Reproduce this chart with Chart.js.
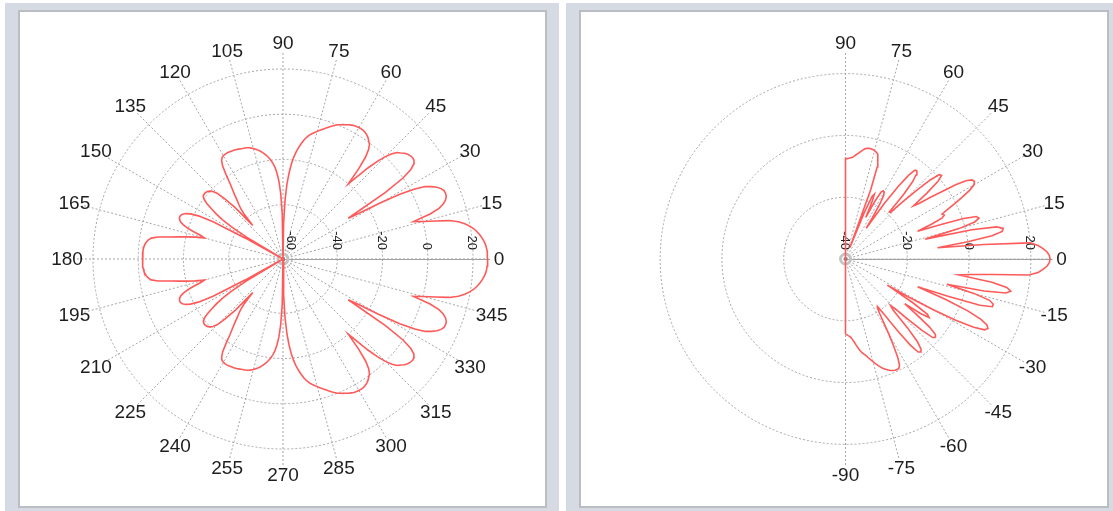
<!DOCTYPE html>
<html>
<head>
<meta charset="utf-8">
<script src="https://cdn.jsdelivr.net/npm/chart.js@4/dist/chart.umd.min.js"></script>
<style>
  html, body { margin: 0; padding: 0; background: #ffffff; }
  body { width: 1113px; height: 511px; position: relative; overflow: hidden; }
  .frame { position: absolute; top: 3px; height: 508px; background: #d6dae2; }
  .panel { position: absolute; top: 7px; height: 494px; border: 2px solid #babdc2; background: #ffffff; }
  .panel canvas { display: block; }
</style>
</head>
<body>
<div class="frame" style="left:5px;width:554px">
  <div class="panel" style="left:13px;width:525px"><canvas id="fullPattern"></canvas></div>
</div>
<div class="frame" style="left:566px;width:547px">
  <div class="panel" style="left:13px;width:526px"><canvas id="halfPattern"></canvas></div>
</div>

<script>
// ---- Full-circle pattern: gain (dB) every 1 degree ----
// 0..180 degrees
const fullGainUpper = [
  26.5, 26.4, 26.3, 26.1, 25.8, 25.2, 24.5, 23.6, 22.6, 21.4,
  19.8, 17.8, 15.3, 11.5, 5.5, 0, -4, 4, 8.5, 11,
  12.5, 13.3, 13.5, 13.3, 12.5, 11, 9, 6.5, 2, -5,
  -15, -25, -30, -10, 0, 5, 7.5, 8.5, 8.7, 8.5,
  8, 7.2, 6, 5, 3, 0, -4, -9, -15, -20,
  -12, -6, -2.5, -0.5, 0.5, 1.5, 2.2, 2.7, 3, 3.1,
  3.1, 3, 2.8, 2.4, 2, 1.5, 1, 0.5, 0, -0.8,
  -1.6, -2.4, -3.2, -4, -4.8, -5.6, -6.4, -7.2, -8, -9.2,
  -10.6, -12.3, -14.2, -16.3, -18.8, -22, -26, -31, -38, -48,
  -64, -44, -35, -29.5, -26, -23.3, -21.5, -20, -18.8, -17.7,
  -16.8, -16, -15.2, -14.5, -14, -13.4, -13, -12.6, -12.3, -12.1,
  -12, -11.8, -11.6, -11.4, -11.3, -11.2, -11.1, -11, -11, -11.1,
  -11.3, -11.7, -12.8, -15, -19, -23, -26, -28.5, -31, -33,
  -35, -38, -44, -33, -27, -23, -21, -20, -19.3, -19,
  -18.8, -18.9, -19.3, -20.5, -22.5, -25.5, -28.5, -32, -37, -45,
  -64, -45, -29, -22, -18.5, -16.5, -15.3, -14.8, -14.7, -15,
  -15.8, -17.3, -19.5, -22.5, -26, -28, -24, -20.5, -17, -13,
  -8, -5, -3.8, -3.1, -2.6, -2.3, -2.1, -2, -1.9, -1.9,
  -1.9
];
// 181..359 degrees
const fullGainLower = [
  -1.9, -1.9, -2, -2.1, -2.3, -2.6, -3.1, -3.8, -5, -8,
  -13, -17, -20.5, -24, -28, -26, -22.5, -19.5, -17.3, -15.8,
  -15, -14.7, -14.8, -15.3, -16.5, -18.5, -22, -29, -45, -64,
  -45, -37, -32, -28.5, -25.5, -22.5, -20.5, -19.3, -18.9, -18.8,
  -19, -19.3, -20, -21, -23, -27, -33, -44, -38, -35,
  -33, -31, -28.5, -26, -23, -19, -15, -12.8, -11.7, -11.3,
  -11.1, -11, -11, -11.1, -11.2, -11.3, -11.4, -11.6, -11.8, -12,
  -12.1, -12.3, -12.6, -13, -13.4, -14, -14.5, -15.2, -16, -16.8,
  -17.7, -18.8, -20, -21.5, -23.3, -26, -29.5, -35, -44, -64,
  -48, -38, -31, -26, -22, -18.8, -16.3, -14.2, -12.3, -10.6,
  -9.2, -8, -7.2, -6.4, -5.6, -4.8, -4, -3.2, -2.4, -1.6,
  -0.8, 0, 0.5, 1, 1.5, 2, 2.4, 2.8, 3, 3.1,
  3.1, 3, 2.7, 2.2, 1.5, 0.5, -0.5, -2.5, -6, -12,
  -20, -15, -9, -4, 0, 3, 5, 6, 7.2, 8,
  8.5, 8.7, 8.5, 7.5, 5, 0, -10, -30, -25, -15,
  -5, 2, 6.5, 9, 11, 12.5, 13.3, 13.5, 13.3, 12.5,
  11, 8.5, 4, -4, 0, 5.5, 11.5, 15.3, 17.8, 19.8,
  21.4, 22.6, 23.6, 24.5, 25.2, 25.8, 26.1, 26.3, 26.4
];
const fullAngleLabels = ['0','15','30','45','60','75','90','105','120','135','150','165',
  '180','195','210','225','240','255','270','285','300','315','330','345'];
const fullAngleTicks = [0,15,30,45,60,75,90,105,120,135,150,165,180,195,210,225,240,255,270,285,300,315,330,345];
const fullRadiusTicks = [-60, -40, -20, 0, 20];
const fullRadiusRange = [-64, 27.5];

// ---- Half-plane pattern: gain (dB) every 1 degree from -90 to 90 ----
const halfGain = [
  -15.7, -15.5, -15.2, -14.9, -14.5, -13.8, -13, -12, -11, -10,
  -9.2, -8.6, -8, -7.2, -6.4, -5.6, -4.8, -4, -3.2, -2.5,
  -2, -1.5, -1.1, -0.8, -0.6, -0.5, -0.6, -1.5, -4, -8,
  -12, -16, -19, -21, -21.5, -18, -11, -5, -1.8, -1.3,
  -2, -4.5, -10, -17.5, -19, -17, -12, -6, -2, -1.3,
  -2, -5, -11, -16, -10, -7, -8, -14, -24, -16,
  -7, 1, 7, 10.5, 11.3, 10.5, 8, 3, -5, -15,
  -5, 6, 10, 10, 8.5, 3, -6.2, 6, 13, 14.5,
  13, 8, -3, 1, 8, 19.5, 22.5, 24, 25.3, 26,
  26.2, 26, 25.3, 24, 22.5, 20, 5, -10, 0, 8,
  11.5, 12, 10, 2, -13.4, -2, 3.5, 5.2, 4.5, 0,
  -8, -15, -10, -6, -5, -5.5, -3, 0, 3, 6,
  8, 8.7, 8.3, 6.5, 3, -2, -6, -10, -12, -6,
  -1, 1.2, 0.8, -2.5, -8, -14, -19, -19.2, -12, -7,
  -4.5, -3.3, -3.5, -6, -11, -18, -28, -24, -19, -16,
  -15, -14.8, -15.5, -19, -25, -20, -17, -18, -24, -36,
  -16, -8.5, -6, -4.5, -4, -3.7, -3.5, -3.4, -3.4, -3.5,
  -3.8, -4.3, -4.9, -5.5, -6, -6.5, -7, -7.2, -7.4, -7.5,
  -7.5
];
const halfAngleLabels = ['-90','-75','-60','-45','-30','-15','0','15','30','45','60','75','90'];
const halfAngleTicks = [-90,-75,-60,-45,-30,-15,0,15,30,45,60,75,90];
const halfRadiusTicks = [-40, -20, 0, 20];
const halfRadiusRange = [-40, 27];

// sample angles (degrees) for each series
const fullAngles = fullGainUpper.map((_, i) => i).concat(fullGainLower.map((_, i) => 181 + i));
const fullGain = fullGainUpper.concat(fullGainLower);
const halfAngles = halfGain.map((_, i) => i - 90);

// polar (angle, gain) -> cartesian in dB units measured from the inner radius
function toXY(angles, gains, rMin) {
  const pts = angles.map((a, i) => {
    const r = Math.max(gains[i] - rMin, 0);
    const t = a * Math.PI / 180;
    return { x: r * Math.cos(t), y: r * Math.sin(t) };
  });
  pts.push({ x: pts[0].x, y: pts[0].y }); // close the outline
  return pts;
}

// polar grid: rings, spokes, radius axis, angle and radius labels
const polarGrid = {
  id: 'polarGrid',
  beforeDatasetsDraw(chart, args, o) {
    const { ctx, scales: { x, y } } = chart;
    const cx = x.getPixelForValue(0), cy = y.getPixelForValue(0);
    const rad = v => x.getPixelForValue(v - o.range[0]) - cx;
    const R = rad(o.range[1]);
    ctx.save();
    ctx.lineWidth = 1;
    ctx.strokeStyle = '#a6a6a6';
    ctx.setLineDash([2, 2]);
    o.radiusTicks.forEach(t => {
      const r = rad(t);
      if (r > 1) { ctx.beginPath(); ctx.arc(cx, cy, r, 0, Math.PI * 2); ctx.stroke(); }
    });
    o.angleTicks.forEach(a => {
      const t = a * Math.PI / 180;
      ctx.beginPath();
      ctx.moveTo(cx, cy);
      ctx.lineTo(cx + R * Math.cos(t), cy - R * Math.sin(t));
      ctx.stroke();
    });
    ctx.setLineDash([]);
    // radius axis along 0 degrees
    ctx.strokeStyle = '#a0a0a0';
    ctx.beginPath(); ctx.moveTo(cx, cy + 0.5); ctx.lineTo(cx + R, cy + 0.5); ctx.stroke();
    // centre marker
    ctx.strokeStyle = '#c4c4c4'; ctx.lineWidth = 3;
    ctx.beginPath(); ctx.arc(cx, cy, 5, 0, Math.PI * 2); ctx.stroke();
    ctx.fillStyle = '#808080';
    ctx.beginPath(); ctx.arc(cx, cy, 2, 0, Math.PI * 2); ctx.fill();
    // angle labels
    ctx.fillStyle = '#1e1e1e';
    ctx.font = '19px "Liberation Sans", Arial, sans-serif';
    ctx.textAlign = 'center';
    ctx.textBaseline = 'middle';
    o.angleTicks.forEach((a, i) => {
      const t = a * Math.PI / 180;
      ctx.fillText(o.angleLabels[i], cx + (R + 9) * Math.cos(t), cy - (R + 9) * Math.sin(t) + 1);
    });
    // radius tick labels, rotated along the axis
    ctx.font = '13px "Liberation Sans", Arial, sans-serif';
    ctx.textAlign = 'right';
    o.radiusTicks.forEach(t => {
      ctx.save();
      ctx.translate(cx + rad(t) - 1, cy - 9);
      ctx.rotate(Math.PI / 2);
      ctx.fillText(String(t), 0, 0);
      ctx.restore();
    });
    ctx.restore();
  }
};

function polarChart(id, angles, gains, range, radiusTicks, angleTicks, angleLabels, centre, radiusPx) {
  const canvas = document.getElementById(id);
  const W = canvas.parentNode.clientWidth, H = canvas.parentNode.clientHeight;
  const k = radiusPx / (range[1] - range[0]);
  return new Chart(canvas, {
    type: 'scatter',
    data: {
      datasets: [{
        data: toXY(angles, gains, range[0]),
        showLine: true,
        borderColor: '#ff5a5a',
        borderWidth: 1.6,
        pointRadius: 0,
        pointHoverRadius: 0,
        tension: 0,
        fill: false
      }]
    },
    options: {
      responsive: true,
      maintainAspectRatio: false,
      animation: false,
      events: [],
      layout: { padding: 0 },
      plugins: {
        legend: { display: false },
        tooltip: { enabled: false },
        polarGrid: { range, radiusTicks, angleTicks, angleLabels }
      },
      scales: {
        x: { type: 'linear', display: false, min: -centre[0] / k, max: (W - centre[0]) / k },
        y: { type: 'linear', display: false, min: -(H - centre[1]) / k, max: centre[1] / k }
      }
    },
    plugins: [polarGrid]
  });
}

polarChart('fullPattern', fullAngles, fullGain, fullRadiusRange, fullRadiusTicks,
  fullAngleTicks, fullAngleLabels, [263, 247], 207);
polarChart('halfPattern', halfAngles, halfGain, halfRadiusRange, halfRadiusTicks,
  halfAngleTicks, halfAngleLabels, [264.5, 247], 207);
</script>
</body>
</html>
